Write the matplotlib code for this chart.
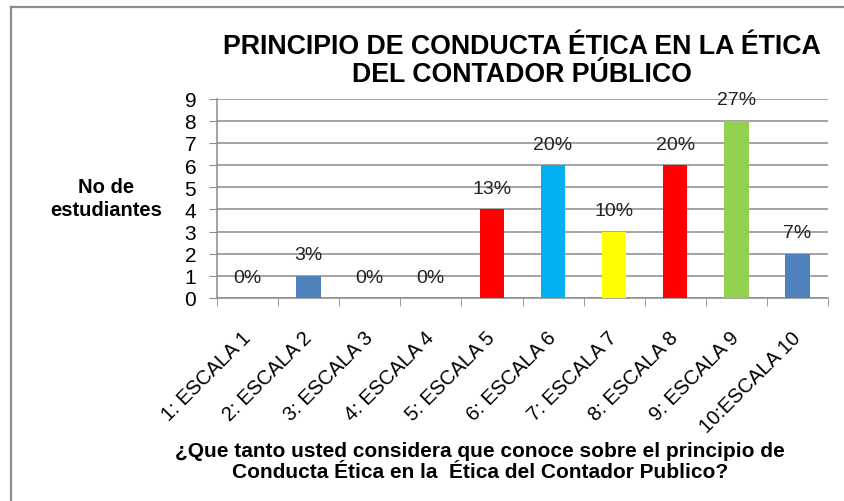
import numpy as np
import matplotlib.pyplot as plt
from matplotlib.lines import Line2D

plt.rcParams['font.family'] = ['Liberation Sans', 'DejaVu Sans']

categorias = ['1: ESCALA 1', '2: ESCALA 2', '3: ESCALA 3', '4: ESCALA 4', '5: ESCALA 5',
              '6: ESCALA 6', '7: ESCALA 7', '8: ESCALA 8', '9: ESCALA 9', '10:ESCALA 10']
estudiantes = [0, 1, 0, 0, 4, 6, 3, 6, 8, 2]
porcentajes = ['0%', '3%', '0%', '0%', '13%', '20%', '10%', '20%', '27%', '7%']
colores = ['#4F81BD', '#4F81BD', '#4F81BD', '#4F81BD', '#FF0000',
           '#00B0F0', '#FFFF00', '#FF0000', '#92D050', '#4F81BD']

W, H = 845, 502
fig = plt.figure(figsize=(W / 100, H / 100), dpi=100)

# marco gris del grafico (lado izquierdo y superior)
fig.add_artist(Line2D([11 / W, 11 / W], [0, 1 - 8 / H], color='#8c8c8c', lw=1.6))
fig.add_artist(Line2D([11 / W, 1], [1 - 8 / H, 1 - 8 / H], color='#8c8c8c', lw=1.6))

ax = fig.add_axes([217 / W, 1 - 299 / H, (828 - 217) / W, (299 - 99.5) / H])
x = np.arange(len(categorias))
ax.bar(x, estudiantes, width=0.4, color=colores, zorder=3)

for xi, v, p in zip(x, estudiantes, porcentajes):
    ax.annotate(p, (xi, v), xytext=(0, 15), textcoords='offset points',
                ha='center', va='center', fontsize=14, color='#222222')

ax.set_xlim(-0.5, len(categorias) - 0.5)
ax.set_ylim(0, 9)
ax.set_yticks(range(10))
ax.yaxis.grid(True, color='#8c8c8c', lw=1.1, zorder=0)
for s in ['top', 'right']:
    ax.spines[s].set_visible(False)
for s in ['bottom', 'left']:
    ax.spines[s].set_color('#8c8c8c')
    ax.spines[s].set_linewidth(1.1)
ax.tick_params(axis='y', length=6, color='#8c8c8c', labelsize=15, pad=9)
ax.set_xticks(np.arange(-0.5, len(categorias), 1), minor=True)
ax.set_xticks(x)
ax.set_xticklabels(categorias, rotation=45, ha='right', va='center',
                   rotation_mode='anchor', fontsize=14.5)
ax.tick_params(axis='x', which='major', length=0, pad=26)
ax.tick_params(axis='x', which='minor', length=6, color='#8c8c8c')

fig.text(522 / W, 1 - 61 / H, 'PRINCIPIO DE CONDUCTA ÉTICA EN LA ÉTICA\nDEL CONTADOR PÚBLICO',
         ha='center', va='center', fontsize=19.3, fontweight='bold', linespacing=1.12)
fig.text(106 / W, 1 - 199 / H, 'No de\nestudiantes', ha='center', va='center',
         fontsize=14.5, fontweight='bold', linespacing=1.3)
fig.text(480 / W, 1 - 462 / H,
         '¿Que tanto usted considera que conoce sobre el principio de\nConducta Ética en la  Ética del Contador Publico?',
         ha='center', va='center', fontsize=15, fontweight='bold', linespacing=1.15)

fig.savefig('out.png', dpi=100)
